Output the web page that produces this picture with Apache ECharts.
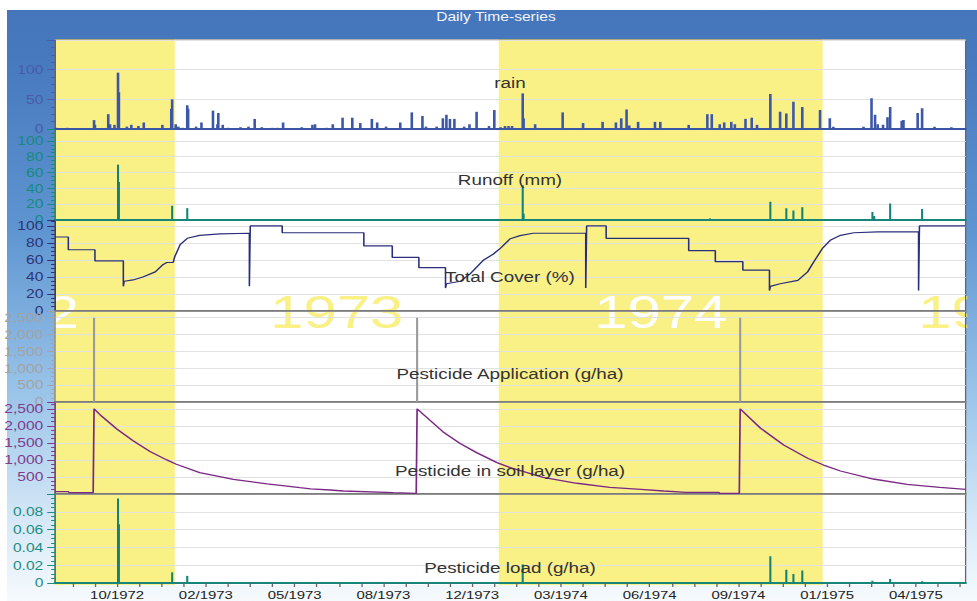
<!DOCTYPE html>
<html>
<head>
<meta charset="utf-8">
<title>Daily Time-series</title>
<script src="https://cdn.jsdelivr.net/npm/echarts@6/dist/echarts.min.js"></script>
<style>
  html, body { margin: 0; padding: 0; background: #fff; }
  #frame {
    position: absolute; left: 7px; top: 10px; width: 970px; height: 591px;
    background: linear-gradient(to bottom, #4576bb 0px, #4779be 50px, #5e95d1 220px, #9dc6ea 390px, #d6e8f7 510px, #f6fafd 591px);
  }
  /* the original picture is stretched sideways, so the chart is drawn narrow and widened */
  #chart {
    position: absolute; left: 0; top: 0; width: 751.54px; height: 601px;
    transform: scaleX(1.3); transform-origin: 0 0;
  }
</style>
</head>
<body>
<div id="frame"></div>
<div id="chart"></div>
<script>
// x values are day numbers counted from 20 Jul 1972
const DAY0 = Date.UTC(1972, 6, 20);
const dayOf = (y, m, d) => Math.round((Date.UTC(y, m - 1, d) - DAY0) / 86400000);

const xMin = 30;   // 19 Aug 1972
const xMax = 1056; // 11 Jun 1975
const xTickDays = [100, 200, 300, 400, 500, 600, 700, 800, 900, 1000];
const xTickLabels = ['10/1972', '02/1973', '05/1973', '08/1973', '12/1973',
  '03/1974', '06/1974', '09/1974', '01/1975', '04/1975'];
const xMinorDays = [];
for (let d = 50; d <= 1050; d += 25) xMinorDays.push(d);

const years = [1972, 1973, 1974, 1975];
const shadedYears = [1972, 1974];

// rain (mm)
const rainDay = [32, 44, 74, 75, 90, 92, 97, 101, 102, 111, 116, 124, 130, 151, 161, 162, 166, 169, 174,
  179, 180, 189, 195, 208, 213, 214, 219, 225, 239, 248, 255, 263, 275, 281, 287, 308, 320, 323, 336,
  343, 354, 365, 374, 387, 393, 403, 419, 432, 444, 448, 460, 467, 471, 475, 480, 491, 497, 505, 519,
  525, 532, 537, 541, 545, 557, 558, 571, 602, 625, 647, 662, 668, 674, 677, 687, 706, 712, 744, 765,
  770, 779, 784, 792, 796, 808, 815, 821, 836, 847, 854, 862, 872, 892, 903, 907, 941, 950, 954, 957,
  963, 968, 971, 984, 986, 1002, 1007, 1021, 1040];
const rainMm = [2, 2, 15, 7, 25, 8, 7, 95, 62, 4, 7, 5, 11, 7, 34, 50, 8, 4, 2,
  40, 34, 4, 11, 31, 8, 27, 7, 2, 3, 4, 17, 3, 2, 2, 11, 3, 7, 8, 2,
  8, 19, 19, 10, 17, 11, 4, 11, 28, 22, 4, 4, 18, 24, 17, 17, 4, 8, 29, 5,
  32, 3, 5, 5, 5, 60, 18, 8, 28, 10, 12, 11, 18, 33, 6, 12, 12, 12, 7, 25,
  25, 8, 11, 12, 8, 17, 19, 7, 59, 29, 26, 46, 37, 32, 18, 4, 4, 52, 24, 8,
  7, 20, 37, 14, 15, 27, 35, 4, 3];

// runoff (mm)
const runoffDay = [101, 102, 162, 179, 303, 557, 558, 768, 836, 854, 862, 872, 951, 953, 971, 1007];
const runoffMm = [70, 48, 18, 15, 0.5, 44, 8, 2, 23, 15, 12, 16, 10, 5, 21, 14];

// total cover (%)
const coverDay = [30, 45, 45, 75, 75, 107, 107, 108, 118, 129, 143, 151, 156, 163, 165, 171, 179, 193,
  216, 249, 249, 250, 286, 286, 378, 378, 410, 410, 440, 440, 470, 470, 471, 487, 498, 513, 524, 532,
  543, 554, 569, 628, 628, 629, 651, 651, 744, 744, 774, 774, 805, 805, 835, 835, 836, 847, 867, 878,
  885, 895, 904, 915, 930, 957, 1003, 1003, 1004, 1056];
const coverPct = [87, 87, 72, 72, 59, 59, 29, 35, 36.5, 40, 46, 54, 57, 57, 64, 78, 85.5, 89,
  90.6, 91.4, 29, 100, 100, 92, 92, 76.5, 76.5, 63, 63, 51, 51, 27, 32, 35, 44, 60, 67, 74,
  85, 88.6, 91.4, 91.4, 27, 100, 100, 85.5, 85.5, 71, 71, 58, 58, 48, 48, 24, 29, 32, 36, 46,
  58, 74, 83.5, 89, 92, 93, 93, 24, 100, 100];

// pesticide application (g/ha)
const applDay = [74, 438, 802];
const applGha = [2500, 2500, 2500];

// pesticide in soil layer (g/ha)
const soilDay = [30, 45, 46, 73, 74, 81, 100, 118, 137, 156, 166, 193, 231, 269, 306, 318, 340, 355,
  411, 437, 438, 452, 467, 486, 505, 528, 543, 580, 618, 655, 690, 716, 741, 778, 779, 801, 802,
  825, 851, 878, 896, 915, 952, 990, 1027, 1056];
const soilGha = [68, 68, 38, 38, 2500, 2320, 1900, 1560, 1245, 1000, 880, 625, 430, 295, 185, 150, 118, 88,
  38, 20, 2500, 2176, 1830, 1490, 1215, 920, 775, 490, 315, 197, 135, 88, 50, 50, 20, 20, 2500,
  1930, 1440, 1050, 850, 675, 440, 285, 197, 138];

// pesticide load (g/ha)
const loadDay = [101, 102, 162, 179, 557, 836, 854, 862, 872, 951, 971, 1007];
const loadGha = [0.095, 0.066, 0.012, 0.008, 0.021, 0.030, 0.015, 0.010, 0.014, 0.0026, 0.0045, 0.002];

// y tick labels
const rainTicks = [0, 50, 100];
const runoffTicks = [0, 20, 40, 60, 80, 100];
const coverTicks = [0, 20, 40, 60, 80, 100];
const applTicks = [0, 500, 1000, 1500, 2000, 2500];
const soilTicks = [500, 1000, 1500, 2000, 2500];
const loadTicks = [0, 0.02, 0.04, 0.06, 0.08];

const FONT = '"Liberation Sans", Arial, sans-serif';
const pairs = (xs, ys) => xs.map((x, i) => [x, ys[i]]);
const plain = v => String(v);
const thousands = v => v.toLocaleString('en-US');
const small = v => (v === 0 ? '0' : v.toFixed(2));

const L = 42.31;
const R = 9.23;
const panels = [
  { top: 40, height: 89 },   // rain
  { top: 129, height: 91 },  // runoff
  { top: 220, height: 91 },  // cover
  { top: 311, height: 91 },  // application
  { top: 402, height: 92 },  // soil
  { top: 494, height: 91 },  // load
];

function yAxisFor(gridIndex, max, interval, ticks, color, fmt) {
  return {
    type: 'value',
    gridIndex,
    min: 0,
    max,
    interval,
    axisLine: { show: true, lineStyle: { color, width: 1 } },
    axisTick: { show: true, length: 6, lineStyle: { color } },
    minorTick: { show: true, splitNumber: 4, length: 3, lineStyle: { color } },
    splitLine: { show: true, lineStyle: { color: '#e2e2e2' } },
    axisLabel: {
      margin: 9,
      color,
      fontSize: 12,
      fontFamily: FONT,
      formatter: v => (ticks.some(t => Math.abs(t - v) < 1e-9) ? fmt(v) : ''),
    },
  };
}

function xAxisFor(gridIndex, lineColor, lineWidth, isBottom) {
  return {
    type: 'value',
    gridIndex,
    min: xMin,
    max: xMax,
    axisLine: { show: !!lineColor, onZero: false, lineStyle: { color: lineColor || '#777', width: lineWidth } },
    axisTick: isBottom
      ? { show: true, length: 4, customValues: xMinorDays, lineStyle: { color: '#666' } }
      : { show: false },
    axisLabel: isBottom
      ? {
        show: true,
        customValues: xTickDays,
        margin: 6,
        fontSize: 11.5,
        fontFamily: FONT,
        color: '#222',
        formatter: v => xTickLabels[xTickDays.indexOf(v)] || '',
      }
      : { show: false },
    splitLine: { show: false },
  };
}

const grids = [{ left: L, right: R, top: 39, height: 546, show: true, backgroundColor: '#fff', borderWidth: 0, z: -10 }];
panels.forEach((p) => {
  grids.push({
    left: L, right: R, top: p.top, height: p.height,
    show: true, backgroundColor: 'transparent', borderColor: '#666', borderWidth: 1, z: -1,
  });
});

const panelTitles = [
  ['rain', 83],
  ['Runoff (mm)', 180],
  ['Total Cover (%)', 277],
  ['Pesticide Application (g/ha)', 374],
  ['Pesticide in soil layer (g/ha)', 471],
  ['Pesticide load (g/ha)', 568],
];

const chart = echarts.init(document.getElementById('chart'), null, { renderer: 'svg' });
chart.setOption({
  animation: false,
  textStyle: { fontFamily: FONT },
  graphic: [
    {
      type: 'text', x: 381.5, y: 17, z: 10,
      style: { text: 'Daily Time-series', fill: '#f2f5fa', font: '12px ' + FONT, align: 'center', verticalAlign: 'middle' },
    },
  ].concat(panelTitles.map(([text, y]) => ({
    type: 'text', x: 392.3, y, z: 10,
    style: { text, fill: '#333', font: '14.5px ' + FONT, align: 'center', verticalAlign: 'middle' },
  }))),
  grid: grids,
  xAxis: [
    { type: 'value', gridIndex: 0, min: xMin, max: xMax, show: false },
    xAxisFor(1, '#3b55a6', 2, false),
    xAxisFor(2, '#17867a', 2, false),
    xAxisFor(3, '#777', 1.5, false),
    xAxisFor(4, '#777', 1.5, false),
    xAxisFor(5, '#777', 1.5, false),
    xAxisFor(6, '#17867a', 2, true),
  ],
  yAxis: [
    { type: 'value', gridIndex: 0, min: 0, max: 1, show: false },
    yAxisFor(1, 150, 50, rainTicks, '#4a5ba8', plain),
    yAxisFor(2, 115, 20, runoffTicks, '#178a7e', plain),
    yAxisFor(3, 107, 20, coverTicks, '#2d3475', plain),
    yAxisFor(4, 2700, 500, applTicks, '#a3a3a3', thousands),
    yAxisFor(5, 2700, 500, soilTicks, '#7d3d8e', thousands),
    yAxisFor(6, 0.1, 0.02, loadTicks, '#1d8d84', small),
  ],
  series: [
    {
      type: 'custom',
      xAxisIndex: 0,
      yAxisIndex: 0,
      clip: true,
      z: -5,
      silent: true,
      encode: { x: [0, 1] },
      data: years.map(y => [dayOf(y, 1, 1), dayOf(y + 1, 1, 1), y]),
      renderItem: (params, api) => {
        const year = api.value(2);
        const start = api.coord([api.value(0), 1]);
        const end = api.coord([api.value(1), 0]);
        const shaded = shadedYears.includes(year);
        return {
          type: 'group',
          children: [
            {
              type: 'rect',
              shape: { x: start[0], y: start[1], width: end[0] - start[0], height: end[1] - start[1] },
              style: { fill: shaded ? '#f9f086' : 'rgba(255,255,255,0)' },
            },
            {
              type: 'text',
              x: (start[0] + end[0]) / 2,
              y: params.coordSys.y + 273,
              style: {
                text: String(year),
                fill: shaded ? '#ffffff' : '#f9f086',
                font: '46px ' + FONT,
                align: 'center',
                verticalAlign: 'middle',
              },
            },
          ],
        };
      },
    },
    {
      name: 'rain', type: 'bar', xAxisIndex: 1, yAxisIndex: 1, barWidth: 2,
      itemStyle: { color: '#3d57a8' }, data: pairs(rainDay, rainMm),
    },
    {
      name: 'Runoff (mm)', type: 'bar', xAxisIndex: 2, yAxisIndex: 2, barWidth: 1.6,
      itemStyle: { color: '#138377' }, data: pairs(runoffDay, runoffMm),
    },
    {
      name: 'Total Cover (%)', type: 'line', xAxisIndex: 3, yAxisIndex: 3, showSymbol: false,
      lineStyle: { color: '#2a2e7a', width: 1.2 }, data: pairs(coverDay, coverPct),
    },
    {
      name: 'Pesticide Application (g/ha)', type: 'bar', xAxisIndex: 4, yAxisIndex: 4, barWidth: 1.6,
      itemStyle: { color: '#9a9a9a' }, data: pairs(applDay, applGha),
    },
    {
      name: 'Pesticide in soil layer (g/ha)', type: 'line', xAxisIndex: 5, yAxisIndex: 5, showSymbol: false,
      lineStyle: { color: '#7b2785', width: 1.3 }, data: pairs(soilDay, soilGha),
    },
    {
      name: 'Pesticide load (g/ha)', type: 'bar', xAxisIndex: 6, yAxisIndex: 6, barWidth: 1.6,
      itemStyle: { color: '#138377' }, data: pairs(loadDay, loadGha),
    },
  ],
});
</script>
</body>
</html>
